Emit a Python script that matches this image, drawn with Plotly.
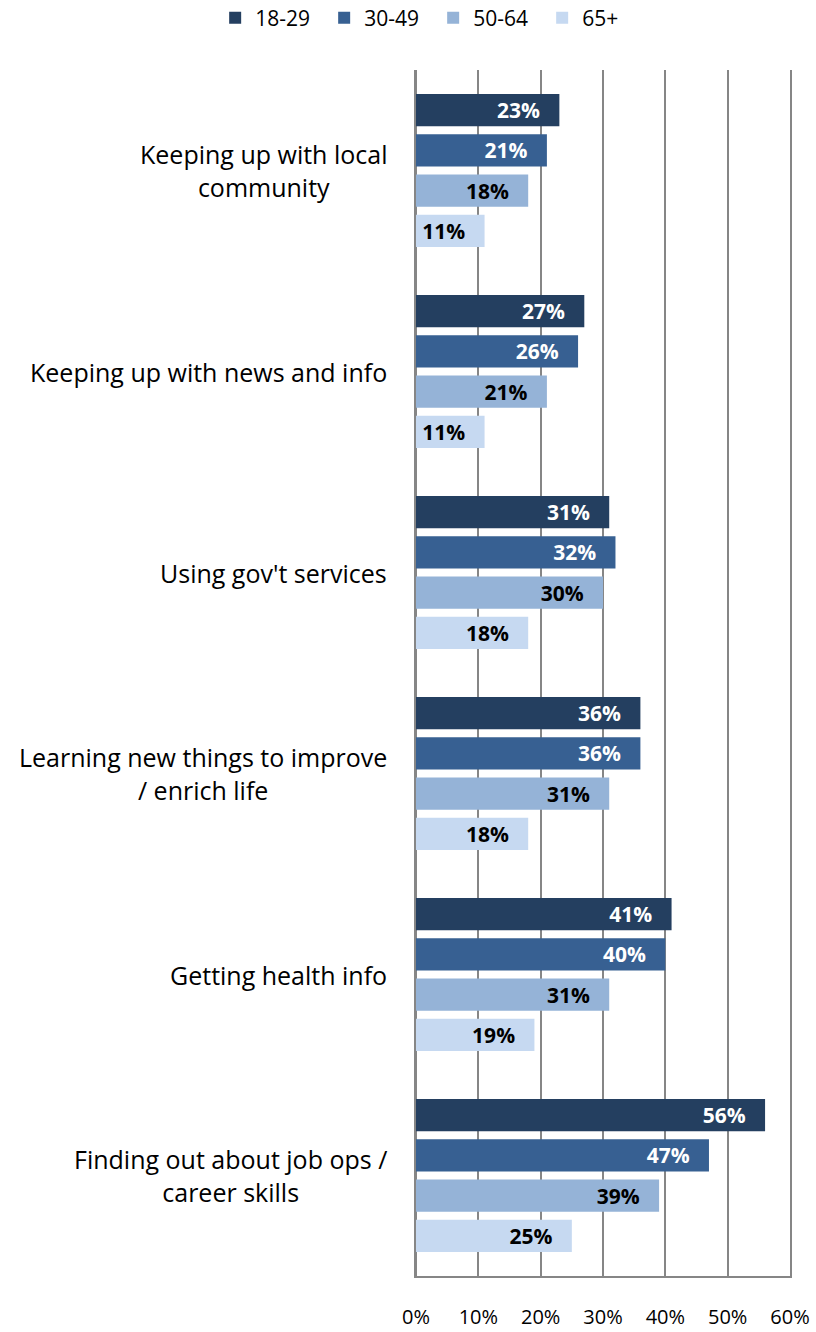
import plotly.graph_objects as go

# Survey categories, listed top to bottom
categories = [
    "Keeping up with local<br>community",
    "Keeping up with news and info",
    "Using gov't services",
    "Learning new things to improve<br>/ enrich life",
    "Getting health info",
    "Finding out about job ops /<br>career skills",
]

age_groups = ["18-29", "30-49", "50-64", "65+"]

# Share of respondents (%) per age group, in category order
pct_18_29 = [23, 27, 31, 36, 41, 56]
pct_30_49 = [21, 26, 32, 36, 40, 47]
pct_50_64 = [18, 21, 30, 31, 31, 39]
pct_65_plus = [11, 11, 18, 18, 19, 25]

x_ticks = [0, 10, 20, 30, 40, 50, 60]

series = [pct_18_29, pct_30_49, pct_50_64, pct_65_plus]
colors = ["#243F60", "#376092", "#95B3D7", "#C6D9F1"]
label_colors = ["#FFFFFF", "#FFFFFF", "#000000", "#000000"]

FONT = "Open Sans"
PAD = "\u00a0\u00a0\u00a0"

fig = go.Figure()
for name, vals, col, lcol in zip(age_groups, series, colors, label_colors):
    fig.add_trace(go.Bar(
        name=name,
        y=categories,
        x=vals,
        orientation="h",
        marker=dict(color=col, line=dict(width=0)),
        text=[f"{v}%{PAD}" for v in vals],
        textposition="inside",
        insidetextanchor="end",
        textangle=0,
        constraintext="none",
        textfont=dict(family=FONT, size=21, color=lcol, weight="bold"),
        hoverinfo="skip",
    ))

# Category labels: centred multi-line blocks to the left of the plot
for cat in categories:
    fig.add_annotation(
        x=0, xref="paper", y=cat, yref="y",
        xanchor="right", xshift=-27, align="center",
        text=cat, showarrow=False,
        font=dict(family=FONT, size=25, color="#000000"),
    )

fig.update_layout(
    width=816, height=1332,
    margin=dict(l=416, r=26, t=70, b=56, autoexpand=False),
    paper_bgcolor="white", plot_bgcolor="white",
    barmode="group", bargap=0.2, bargroupgap=0.2,
    font=dict(family=FONT, color="#000000"),
    showlegend=True,
    legend=dict(
        orientation="h", xref="paper", yref="paper",
        x=-0.537, xanchor="left", y=1.06, yanchor="top",
        font=dict(family=FONT, size=21, color="#000000"),
        entrywidth=64, itemwidth=30, traceorder="normal",
        bgcolor="rgba(0,0,0,0)",
    ),
)

fig.update_xaxes(
    range=[0, 60], tickvals=x_ticks, ticktext=[f"{t}%" for t in x_ticks],
    showgrid=True, gridcolor="#868686", gridwidth=1.5,
    zeroline=True, zerolinecolor="#868686", zerolinewidth=1.5,
    showline=True, linecolor="#868686", linewidth=1.5,
    ticks="", ticklabelstandoff=22,
    tickfont=dict(family=FONT, size=20, color="#000000"),
    fixedrange=True,
)
fig.update_yaxes(
    categoryorder="array", categoryarray=categories,
    autorange="reversed", showticklabels=False,
    showgrid=False, zeroline=False,
    showline=True, mirror=True, linecolor="#868686", linewidth=1.5,
    fixedrange=True,
)

fig.write_html("out.html")
